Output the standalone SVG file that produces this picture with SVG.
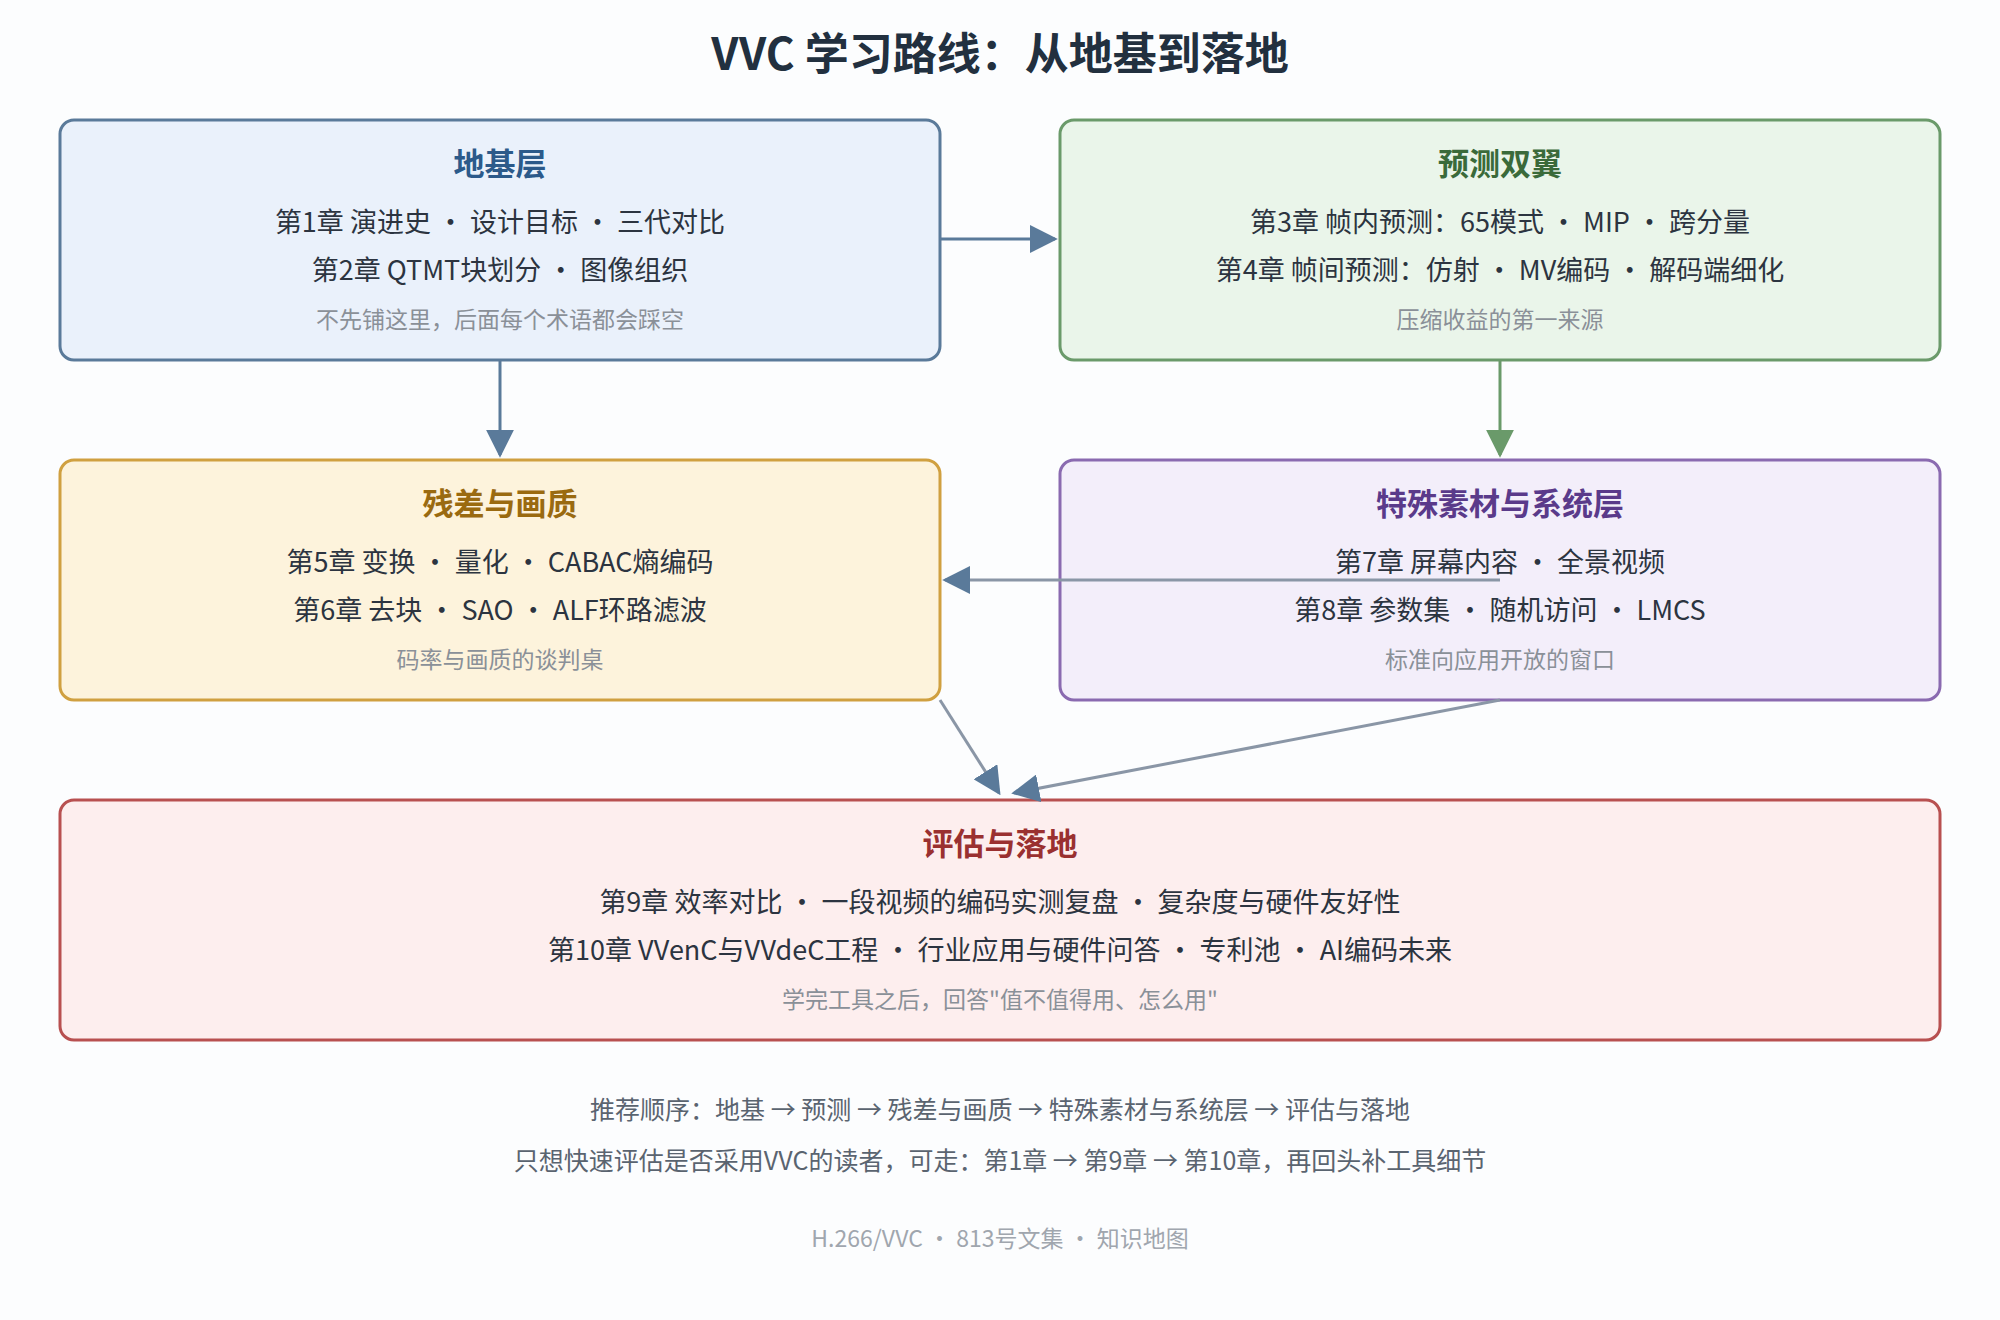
<svg xmlns="http://www.w3.org/2000/svg" width="2000" height="1320" viewBox="0 0 2000 1320">
<style>
text{font-family:"Noto Sans CJK SC","Noto Sans",sans-serif;text-anchor:middle}
.t{font-size:31px;font-weight:bold}
.l{font-size:27px;fill:#2c3440}
.n{font-size:23px;fill:#8a9098}
.b{stroke-width:3}
</style>
<defs>
<marker id="ab" viewBox="0 0 10 10" refX="9" refY="5" markerWidth="7" markerHeight="7" orient="auto" markerUnits="userSpaceOnUse" style="overflow:visible"><path d="M0,0L10,5L0,10z" fill="#5a7a9a" transform="scale(2.8)"/></marker>
<marker id="ag" viewBox="0 0 10 10" refX="9" refY="5" markerWidth="28" markerHeight="28" orient="auto" markerUnits="userSpaceOnUse"><path d="M0,0L10,5L0,10z" fill="#6a9a6a"/></marker>
<marker id="ax" viewBox="0 0 10 10" refX="9" refY="5" markerWidth="28" markerHeight="28" orient="auto" markerUnits="userSpaceOnUse"><path d="M0,0L10,5L0,10z" fill="#5a7a9a"/></marker>
</defs>
<rect width="2000" height="1320" fill="#fcfdfe"/>
<text x="1000" y="70" style="font-size:44px;font-weight:bold;fill:#22303f">VVC 学习路线：从地基到落地</text>
<g id="n1"><rect x="60" y="120" width="880" height="240" rx="14" fill="#eaf1fb" stroke="#5a7a9a" class="b"/>
<text x="500" y="175" class="t" fill="#2c5a8a">地基层</text>
<text x="500" y="232" class="l">第1章 演进史 · 设计目标 · 三代对比</text>
<text x="500" y="280" class="l">第2章 QTMT块划分 · 图像组织</text>
<text x="500" y="328" class="n">不先铺这里，后面每个术语都会踩空</text></g>
<g id="n2"><rect x="1060" y="120" width="880" height="240" rx="14" fill="#eaf5ea" stroke="#6a9a6a" class="b"/>
<text x="1500" y="175" class="t" fill="#3a6a3a">预测双翼</text>
<text x="1500" y="232" class="l">第3章 帧内预测：65模式 · MIP · 跨分量</text>
<text x="1500" y="280" class="l">第4章 帧间预测：仿射 · MV编码 · 解码端细化</text>
<text x="1500" y="328" class="n">压缩收益的第一来源</text></g>
<g id="n3"><rect x="60" y="460" width="880" height="240" rx="14" fill="#fdf3dc" stroke="#d0a040" class="b"/>
<text x="500" y="515" class="t" fill="#9a6a10">残差与画质</text>
<text x="500" y="572" class="l">第5章 变换 · 量化 · CABAC熵编码</text>
<text x="500" y="620" class="l">第6章 去块 · SAO · ALF环路滤波</text>
<text x="500" y="668" class="n">码率与画质的谈判桌</text></g>
<g id="n4"><rect x="1060" y="460" width="880" height="240" rx="14" fill="#f3eefa" stroke="#8a6ab0" class="b"/>
<text x="1500" y="515" class="t" fill="#5a3a8a">特殊素材与系统层</text>
<text x="1500" y="572" class="l">第7章 屏幕内容 · 全景视频</text>
<text x="1500" y="620" class="l">第8章 参数集 · 随机访问 · LMCS</text>
<text x="1500" y="668" class="n">标准向应用开放的窗口</text></g>
<g id="n5"><rect x="60" y="800" width="1880" height="240" rx="14" fill="#fdeeee" stroke="#b85050" class="b"/>
<text x="1000" y="855" class="t" fill="#9a3030">评估与落地</text>
<text x="1000" y="912" class="l">第9章 效率对比 · 一段视频的编码实测复盘 · 复杂度与硬件友好性</text>
<text x="1000" y="960" class="l">第10章 VVenC与VVdeC工程 · 行业应用与硬件问答 · 专利池 · AI编码未来</text>
<text x="1000" y="1008" class="n">学完工具之后，回答"值不值得用、怎么用"</text></g>
<g id="edges" fill="none" stroke-width="3">
<line x1="940" y1="239" x2="1055" y2="239" stroke="#5a7a9a" marker-end="url(#ax)"/>
<line x1="500" y1="360" x2="500" y2="455" stroke="#5a7a9a" marker-end="url(#ax)"/>
<line x1="1500" y1="360" x2="1500" y2="455" stroke="#6a9a6a" marker-end="url(#ag)"/>
<line x1="1500" y1="580" x2="945" y2="580" stroke="#8a96a6" marker-end="url(#ax)"/>
<line x1="940" y1="700" x2="999" y2="793" stroke="#8a96a6" marker-end="url(#ax)"/>
<line x1="1500" y1="700" x2="1014" y2="793" stroke="#8a96a6" marker-end="url(#ax)"/>
</g>
<text x="1000" y="1119" style="font-size:25px;fill:#5a6470">推荐顺序：地基 → 预测 → 残差与画质 → 特殊素材与系统层 → 评估与落地</text>
<text x="1000" y="1170" style="font-size:25px;fill:#5a6470">只想快速评估是否采用VVC的读者，可走：第1章 → 第9章 → 第10章，再回头补工具细节</text>
<text x="1000" y="1247" style="font-size:23px;fill:#a0a6ae">H.266/VVC · 813号文集 · 知识地图</text>
</svg>
